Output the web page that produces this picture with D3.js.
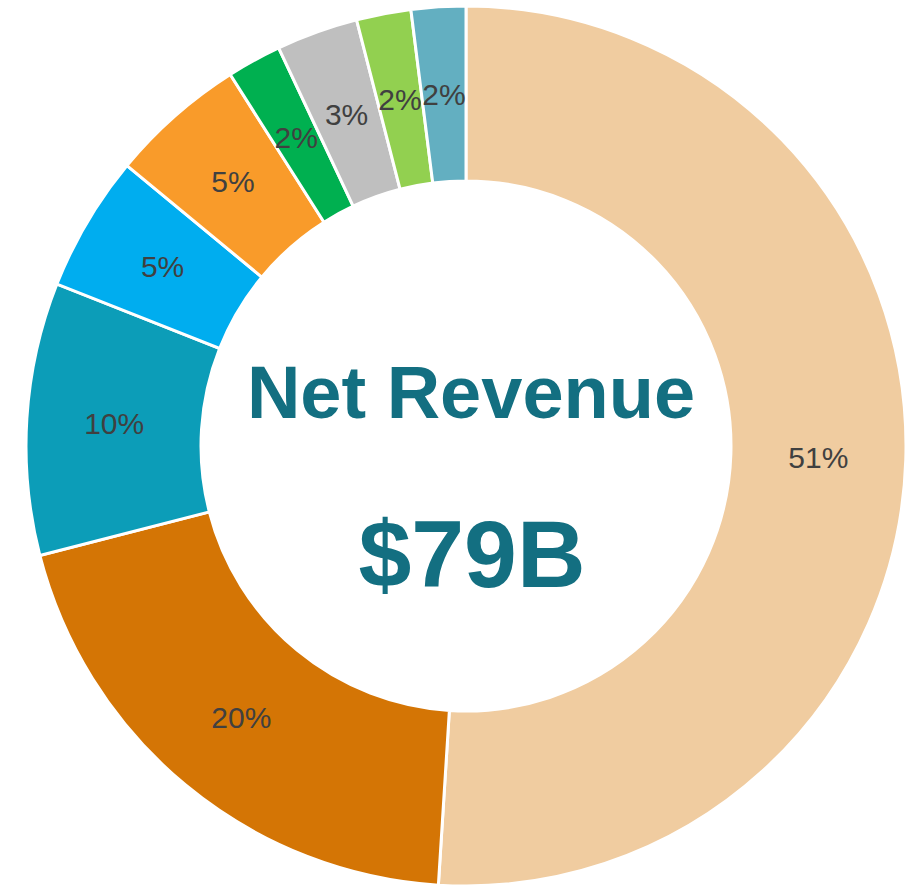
<!DOCTYPE html>
<html>
<head>
<meta charset="utf-8">
<title>Net Revenue</title>
<script src="https://d3js.org/d3.v7.min.js"></script>
<style>
  html, body { margin: 0; padding: 0; background: #fff; }
  text { font-family: "Liberation Sans", Arial, sans-serif; }
</style>
</head>
<body>
<div id="donut"></div>
<script>
// segment shares (percent), clockwise from 12 o'clock
var shares = [51, 20, 10, 5, 5, 2, 3, 2, 2];
var labels = ["51%", "20%", "10%", "5%", "5%", "2%", "3%", "2%", "2%"];
var colors = ["#F0CCA0", "#D47505", "#0C9DB8", "#00ADEF", "#F99B2A", "#00B050", "#BFBFBF", "#92D050", "#63AFC1"];
var centerTitle = "Net Revenue";
var centerValue = "$79B";

var width = 920, height = 887;
var cx = 466, cy = 446;
var outerR = 440, innerR = 265;

var svg = d3.select("#donut")
  .append("svg")
    .attr("width", width)
    .attr("height", height)
  .append("g")
    .attr("transform", "translate(" + cx + "," + cy + ")");

var pie = d3.pie().sort(null).value(function(d) { return d; });
var arc = d3.arc().innerRadius(innerR).outerRadius(outerR);

var slices = svg.selectAll(".slice")
  .data(pie(shares))
  .enter().append("g")
    .attr("class", "slice");

slices.append("path")
  .attr("d", arc)
  .attr("fill", function(d, i) { return colors[i]; })
  .attr("stroke", "#fff")
  .attr("stroke-width", 3);

slices.append("text")
  .attr("transform", function(d) { return "translate(" + arc.centroid(d) + ")"; })
  .attr("text-anchor", "middle")
  .attr("dy", "0.35em")
  .style("font-size", "30px")
  .style("fill", "#404040")
  .text(function(d, i) { return labels[i]; });

// center text
svg.append("text")
  .attr("x", 5)
  .attr("y", -28)
  .attr("text-anchor", "middle")
  .style("font-size", "74px")
  .style("font-weight", "bold")
  .style("fill", "#136F81")
  .text(centerTitle);

svg.append("text")
  .attr("x", 6)
  .attr("y", 141)
  .attr("text-anchor", "middle")
  .style("font-size", "95px")
  .style("font-weight", "bold")
  .style("fill", "#136F81")
  .text(centerValue);
</script>
</body>
</html>
